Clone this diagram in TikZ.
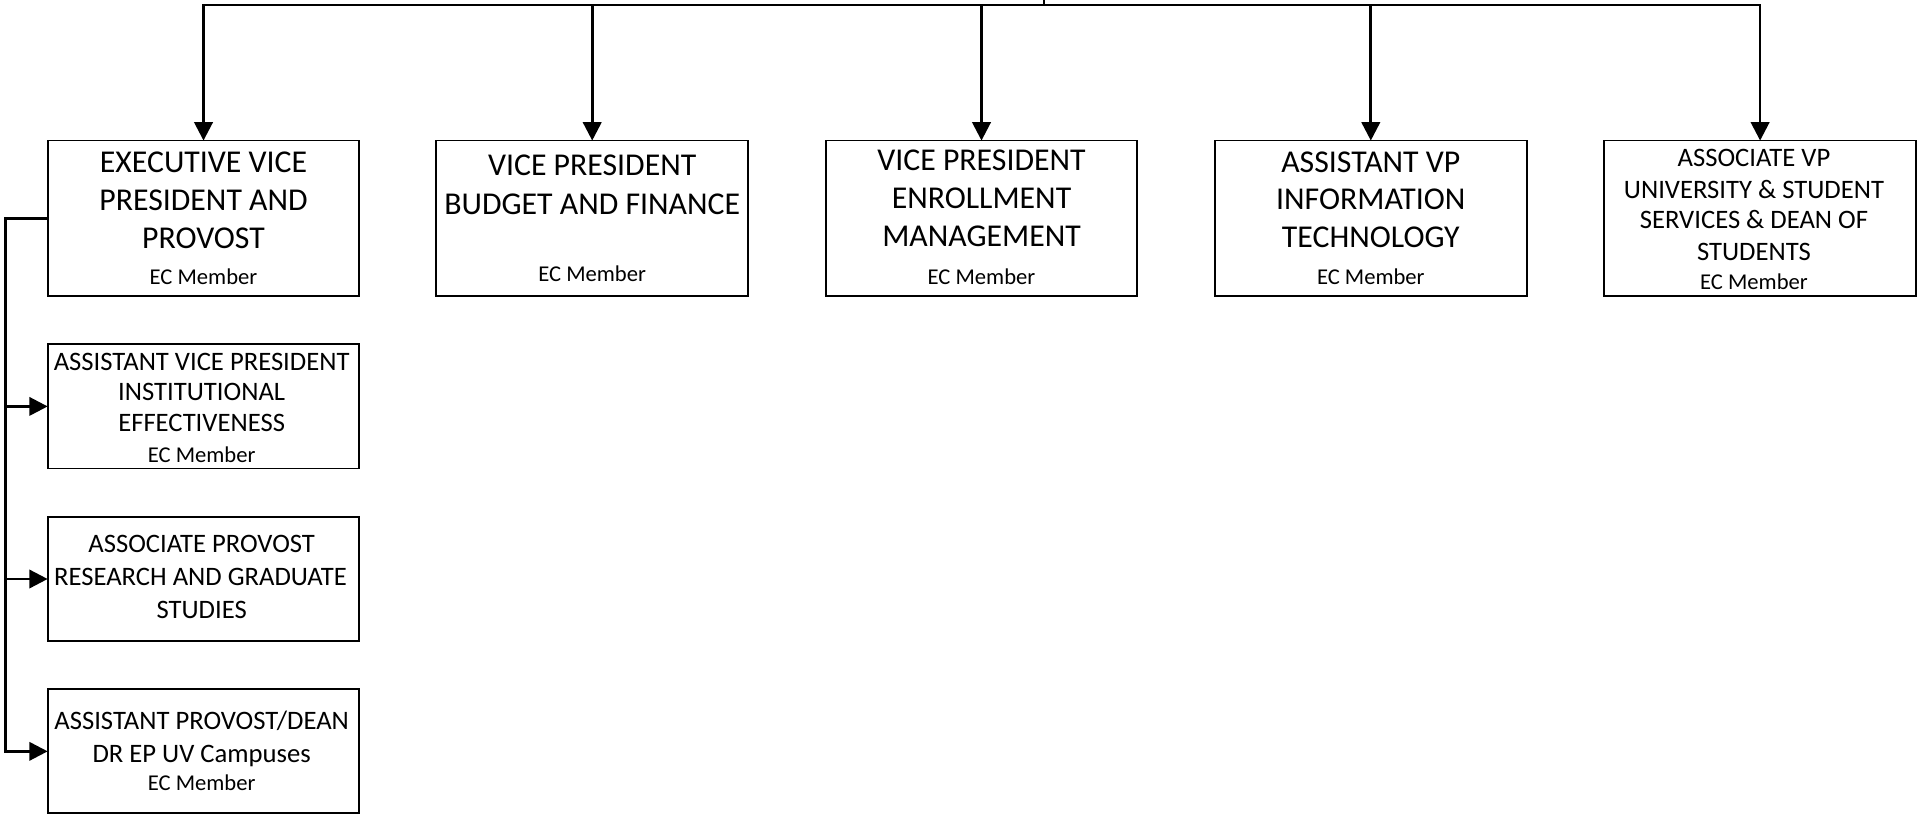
\documentclass[tikz,border=0pt]{standalone}
\usepackage{fontspec}
\setmainfont{Carlito}
\usetikzlibrary{arrows.meta}
\newcommand\fbig{\fontsize{26}{31}\selectfont}
\newcommand\fmed{\fontsize{21.8}{25.5}\selectfont}
\newcommand\fec{\fontsize{18.5}{22}\selectfont}
\tikzset{
  box/.style={draw, line width=1.5pt, minimum width=255pt, inner sep=0pt, outer sep=0pt},
  topbox/.style={box, minimum height=127pt},
  subbox/.style={box, minimum height=101.5pt},
  conn/.style={line width=2.2pt},
  tip/.style={-{Triangle[length=15pt,width=15pt]}},
  bigt/.style={font=\fbig, anchor=base, inner sep=0pt},
  medt/.style={font=\fmed, anchor=base, inner sep=0pt},
  ect/.style={font=\fec, anchor=base, inner sep=0pt}
}
\begin{document}
\begin{tikzpicture}[x=1pt,y=-1pt]
\useasboundingbox (0,0) rectangle (1570,668);
% top boxes
\node[topbox] (b1) at (166.5,178.5) {};
\node[topbox] (b2) at (484.5,178.5) {};
\node[topbox] (b3) at (803,178.5) {};
\node[topbox] (b4) at (1121.5,178.5) {};
\node[topbox] (b5) at (1440,178.5) {};
% sub boxes
\node[subbox] (cA) at (166.5,332.5) {};
\node[subbox] (cB) at (166.5,473.7) {};
\node[subbox] (cC) at (166.5,614.7) {};
% texts box 1
\node[bigt] (t1a) at (166.5,141.4) {EXECUTIVE VICE};
\node[bigt] (t1b) at (166.5,172.4) {PRESIDENT AND};
\node[bigt] (t1c) at (166.5,203.4) {PROVOST};
\node[ect] (t1e) at (166.5,233) {EC Member};
% box 2
\node[bigt] (t2a) at (484.5,143.4) {VICE PRESIDENT};
\node[bigt] (t2b) at (484.5,175.4) {BUDGET AND FINANCE};
\node[ect] (t2e) at (484.5,230) {EC Member};
% box 3
\node[bigt] (t3a) at (803,139.4) {VICE PRESIDENT};
\node[bigt] (t3b) at (803,170.4) {ENROLLMENT};
\node[bigt] (t3c) at (803,201.4) {MANAGEMENT};
\node[ect] (t3e) at (803,233) {EC Member};
% box 4
\node[bigt] (t4a) at (1121.5,141.4) {ASSISTANT VP};
\node[bigt] (t4b) at (1121.5,171.4) {INFORMATION};
\node[bigt] (t4c) at (1121.5,202.4) {TECHNOLOGY};
\node[ect] (t4e) at (1121.5,233) {EC Member};
% box 5
\node[medt] (t5a) at (1435,136) {ASSOCIATE VP};
\node[medt] (t5b) at (1435,162) {UNIVERSITY \& STUDENT};
\node[medt] (t5c) at (1435,187) {SERVICES \& DEAN OF};
\node[medt] (t5d) at (1435,213) {STUDENTS};
\node[ect] (t5e) at (1435,237) {EC Member};
% box A
\node[medt] (tAa) at (165,303) {ASSISTANT VICE PRESIDENT};
\node[medt] (tAb) at (165,328) {INSTITUTIONAL};
\node[medt] (tAc) at (165,353) {EFFECTIVENESS};
\node[ect] (tAe) at (165,378) {EC Member};
% box B
\node[medt] (tBa) at (165,452) {ASSOCIATE PROVOST};
\node[medt] (tBb) at (164,479) {RESEARCH AND GRADUATE};
\node[medt] (tBc) at (165,506) {STUDIES};
% box C
\node[medt] (tCa) at (165,597) {ASSISTANT PROVOST/DEAN};
\node[medt] (tCb) at (165,624) {DR EP UV Campuses};
\node[ect] (tCe) at (165,647) {EC Member};
% connectors
\coordinate (up) at (854,0);
\coordinate (j) at (854,4);
\coordinate (lx) at (4.5,178.5);
\draw[conn] (up) -- (j);
\draw[conn, {Triangle[length=15pt,width=15pt]}-{Triangle[length=15pt,width=15pt]}] (b1.north) -- (b1.north |- j) -- (b5.north |- j) -- (b5.north);
\draw[conn, tip] (b2.north |- j) -- (b2.north);
\draw[conn, tip] (b3.north |- j) -- (b3.north);
\draw[conn, tip] (b4.north |- j) -- (b4.north);
\draw[conn, tip] (b1.west) -- (lx) -- (cC.west -| lx) -- (cC.west);
\draw[conn, tip] (cA.west -| lx) -- (cA.west);
\draw[conn, tip] (cB.west -| lx) -- (cB.west);
\end{tikzpicture}
\end{document}
